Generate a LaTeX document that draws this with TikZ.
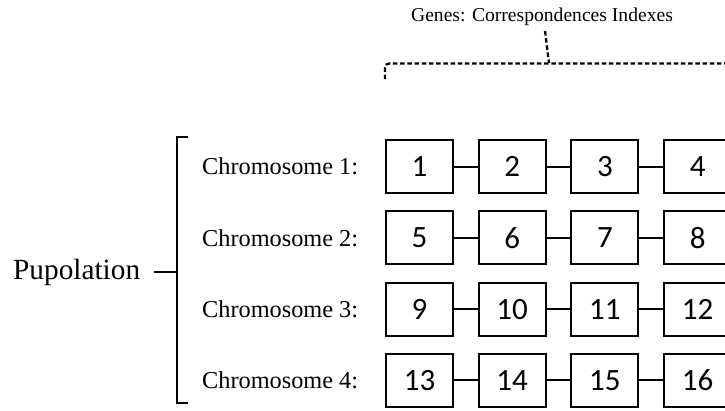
\documentclass[tikz,border=0pt]{standalone}
\usepackage{fontspec}
\setmainfont{Liberation Serif}
\newfontfamily\genefont{Carlito}
\usepackage{tikz}

\begin{document}
\begin{tikzpicture}[x=1pt, y=-1pt,
    gene/.style={draw, line width=2pt, minimum width=67pt, minimum height=53pt,
      inner sep=0pt, font=\genefont\fontsize{31}{36}\selectfont},
    chromo/.style={anchor=west, inner sep=0pt, font=\rmfamily\fontsize{24.3}{29}\selectfont},
    link/.style={line width=2pt},
    brace/.style={line width=2.3pt, dash pattern=on 4.5pt off 2.7pt}]
    \useasboundingbox (0,0) rectangle (725,410);
    % chromosomes and their genes
    \foreach \r in {1,...,4} {
      \node [chromo] (c\r) at (202, {95.2+71.3*\r}) {Chromosome \r:};
      \foreach \c in {1,...,4} {
        \pgfmathtruncatemacro{\g}{4*(\r-1)+\c}
        \node [gene] (g\g) at ({326.8+92.7*\c}, {95.2+71.3*\r}) {\g};
      }
    }
    \foreach \a/\b in {1/2,2/3,3/4,5/6,6/7,7/8,9/10,10/11,11/12,13/14,14/15,15/16}
      \draw [link] (g\a) -- (g\b);
    % population bracket
    \node [anchor=west, inner sep=0pt, font=\rmfamily\fontsize{29.3}{35}\selectfont]
      (pop) at (13,272) {Pupolation};
    \coordinate (brk-top) at (188,137);
    \coordinate (brk-mid) at (177,272);
    \coordinate (brk-bot) at (188,403);
    \draw [link] (brk-top) -| (brk-mid) |- (brk-bot);
    \draw [link] ([xshift=14pt]pop.east) -- (brk-mid);
    % genes brace
    \node [anchor=base, inner sep=0pt, font=\rmfamily\fontsize{19.6}{23}\selectfont]
      (genes) at (542,21) {Genes: Correspondences Indexes};
    \coordinate (stem-top) at (545,31);
    \coordinate (stem-bot) at (549,63);
    \coordinate (brace-left) at (385,79);
    \coordinate (brace-right) at (730,63.5);
    \draw [brace] (stem-top) -- (stem-bot);
    \draw [brace, rounded corners=4pt] (brace-left) |- (brace-right);
\end{tikzpicture}
\end{document}
